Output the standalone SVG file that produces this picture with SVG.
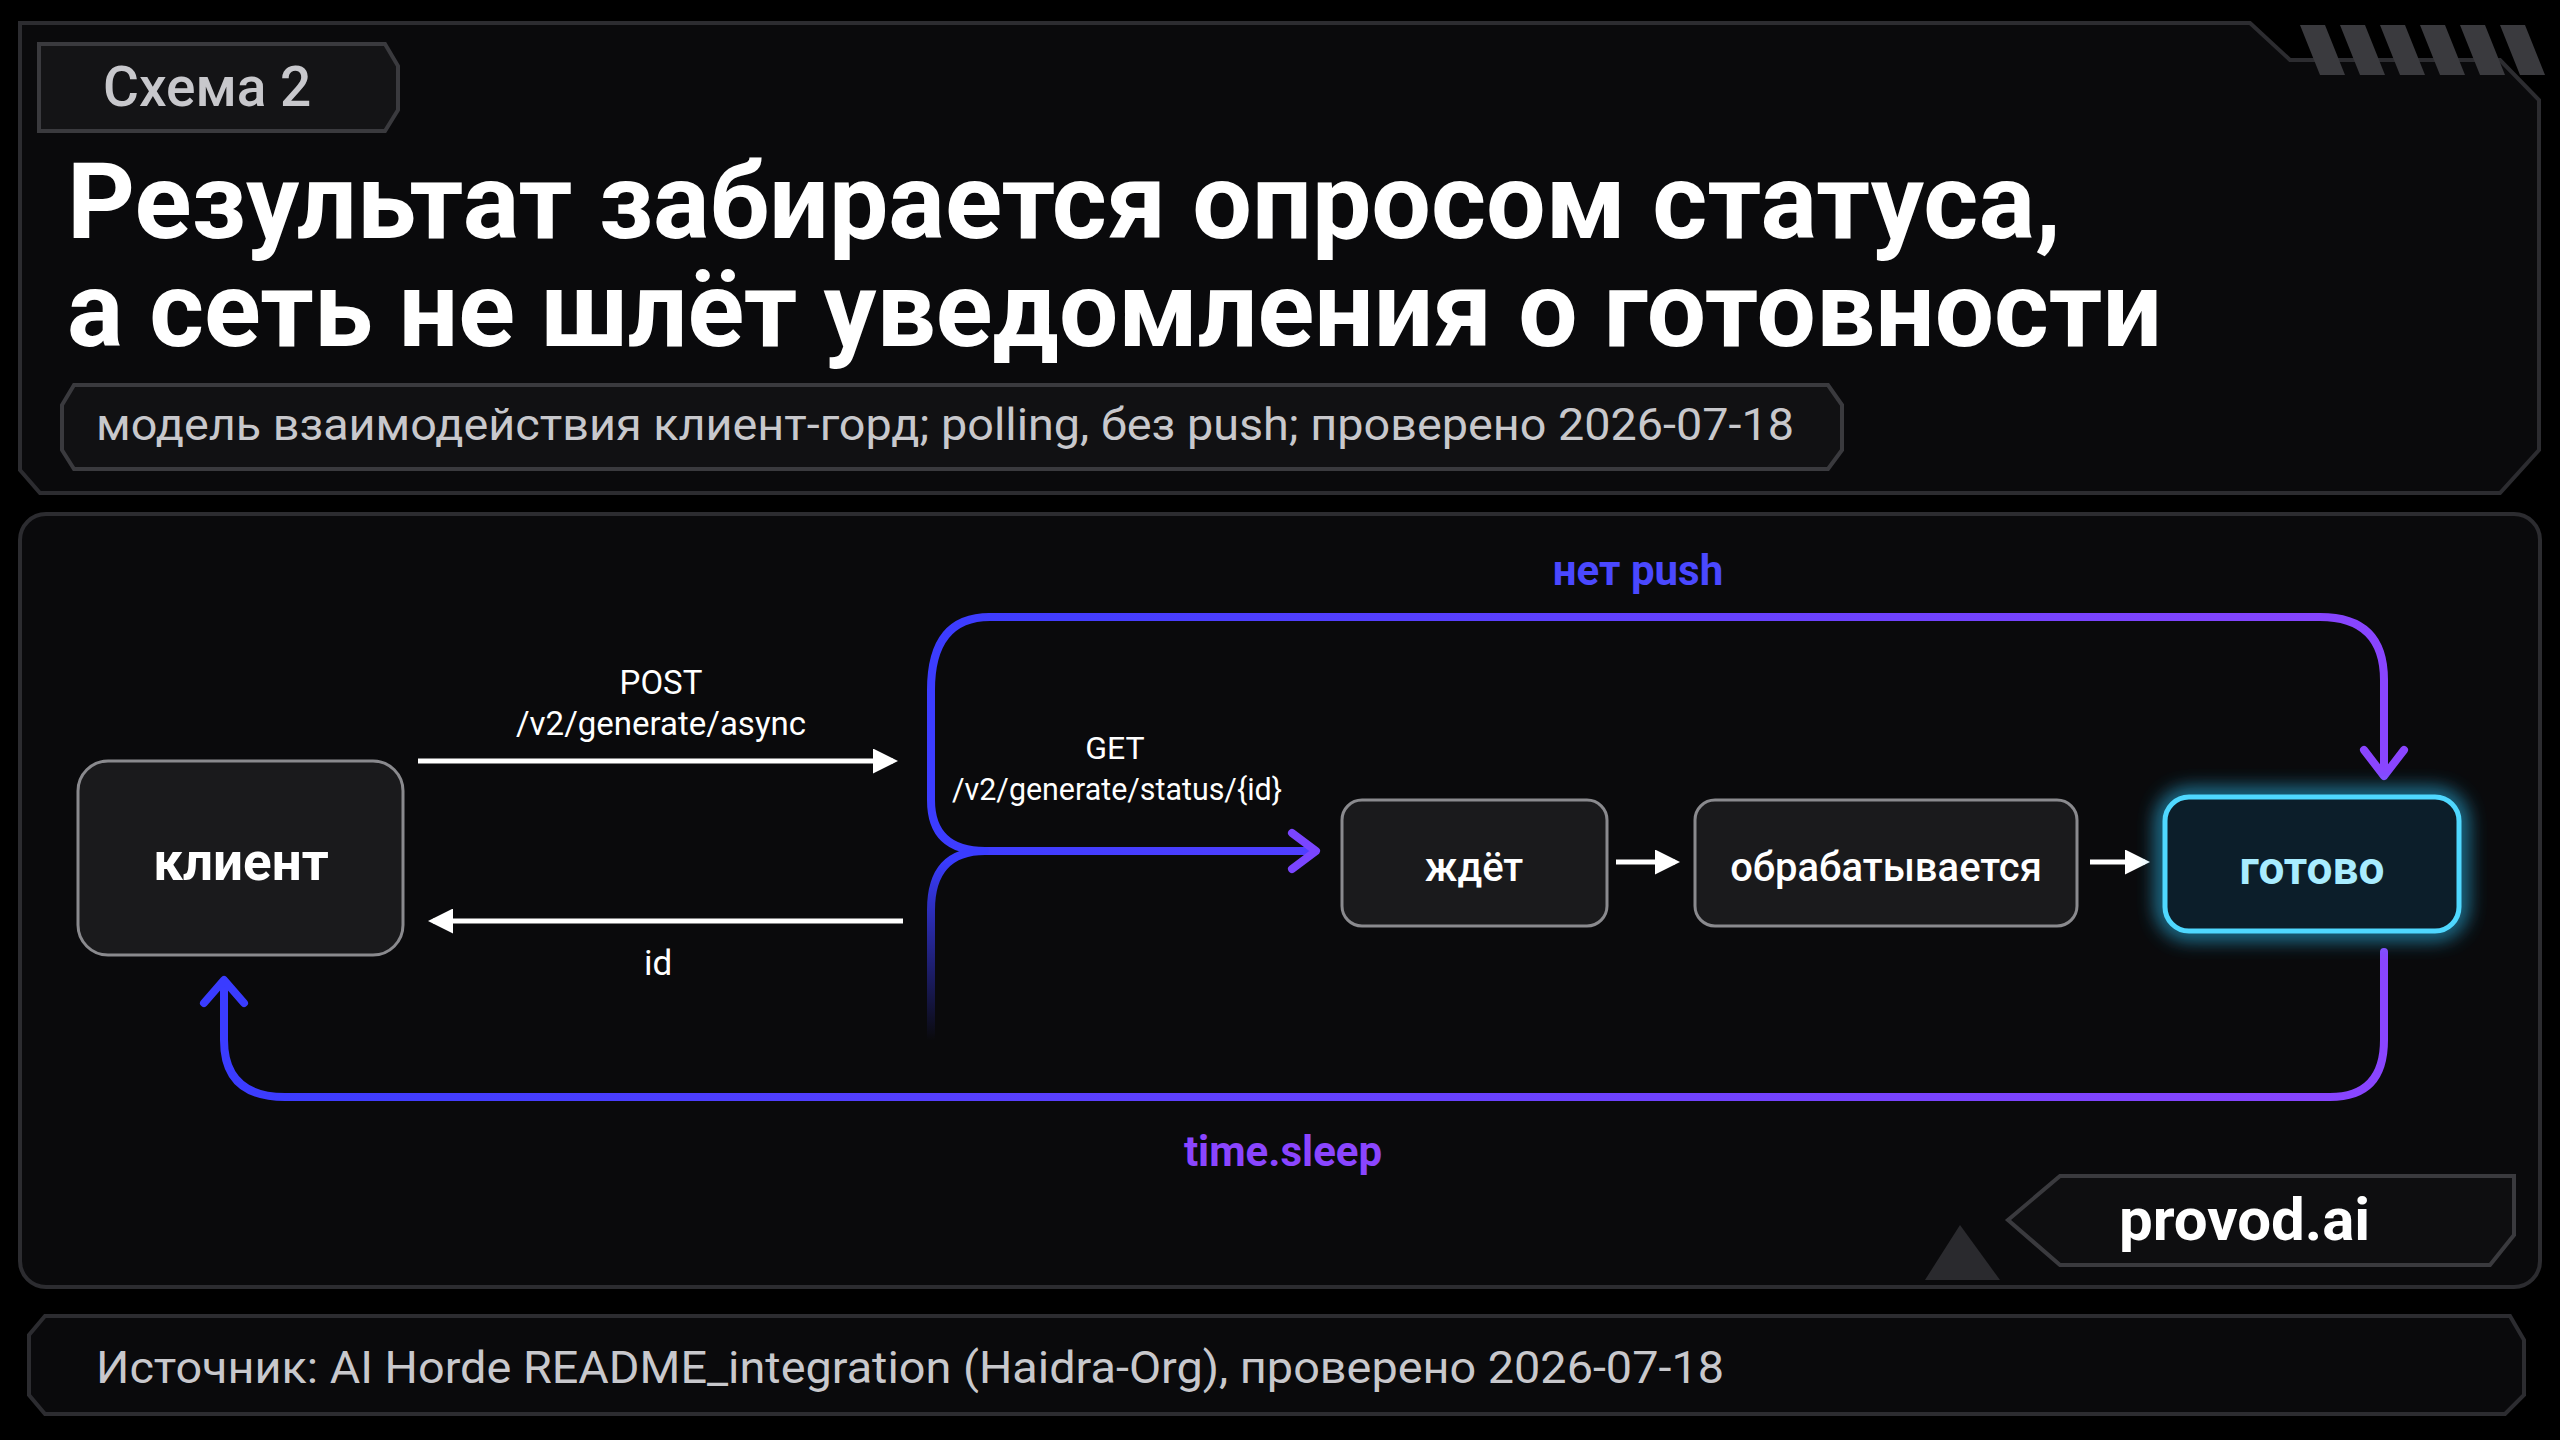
<svg xmlns="http://www.w3.org/2000/svg" width="2560" height="1440" viewBox="0 0 2560 1440">
<defs>
<style>
.frame{fill:#0a0a0c;stroke:#2c2c30;stroke-width:4}
.node{fill:#1a1a1c;stroke:#8a8a8e;stroke-width:3}
.t{font-family:Roboto,"Liberation Sans",sans-serif}
.w{fill:#fff}
.g{fill:#c8c8cc}
.wl{stroke:#fff;stroke-width:5;fill:none}
.bl{fill:none;stroke-width:8;stroke-linecap:round;stroke-linejoin:round}
</style>
<linearGradient id="gr" gradientUnits="userSpaceOnUse" x1="900" y1="0" x2="2400" y2="0"><stop offset="0" stop-color="#3a3cff"/><stop offset="1" stop-color="#8a45ff"/></linearGradient>
<linearGradient id="gr2" gradientUnits="userSpaceOnUse" x1="200" y1="0" x2="2400" y2="0"><stop offset="0" stop-color="#3a3cff"/><stop offset="1" stop-color="#8a45ff"/></linearGradient>
<linearGradient id="gv" gradientUnits="userSpaceOnUse" x1="0" y1="860" x2="0" y2="1040"><stop offset="0" stop-color="#3a3cff"/><stop offset="1" stop-color="#3a3cff" stop-opacity="0"/></linearGradient>
<marker id="wa" viewBox="0 0 10 10" refX="8" refY="5" markerWidth="5" markerHeight="5" orient="auto"><path d="M0,0 L10,5 L0,10 Z" fill="#fff"/></marker>
<filter id="glow" x="-30%" y="-30%" width="160%" height="160%"><feGaussianBlur stdDeviation="10"/></filter>
</defs>
<rect width="2560" height="1440" fill="#000"/>
<g id="header">
<path class="frame" d="M20,23 H2250 L2290,60 H2500 L2539,100 V450 L2500,493 H40 L20,470 Z"/>
<g fill="#3a3a3e"><path d="M2300,25 h25 l20,50 h-25z"/><path d="M2340,25 h25 l20,50 h-25z"/><path d="M2380,25 h25 l20,50 h-25z"/><path d="M2420,25 h25 l20,50 h-25z"/><path d="M2460,25 h25 l20,50 h-25z"/><path d="M2500,25 h25 l20,50 h-25z"/></g>
<path d="M39,44 H385 L398,66 V110 L385,131 H39 L39,131 Z" fill="#141416" stroke="#3a3a3e" stroke-width="4"/>
<text class="t g" x="103" y="106" font-size="55" font-weight="500">Схема 2</text>
<text class="t w" x="67" y="238" font-size="106" font-weight="700" textLength="1994" lengthAdjust="spacingAndGlyphs">Результат забирается опросом статуса,</text>
<text class="t w" x="67" y="346" font-size="106" font-weight="700" textLength="2095" lengthAdjust="spacingAndGlyphs">а сеть не шлёт уведомления о готовности</text>
<path d="M74,385 H1828 L1842,405 V450 L1828,469 H74 L62,450 V405 Z" fill="#111113" stroke="#3a3a3e" stroke-width="4"/>
<text class="t g" x="96" y="440" font-size="45" textLength="1698" lengthAdjust="spacingAndGlyphs">модель взаимодействия клиент-горд; polling, без push; проверено 2026-07-18</text>
</g>
<rect class="frame" x="20" y="514" width="2520" height="773" rx="26"/>
<g id="brand">
<path d="M1925,1280 L1960,1225 L2000,1280 Z" fill="#2a2a2e"/>
<path d="M2060,1176 H2514 V1235 L2490,1265 H2060 L2008,1220 Z" fill="#0e0e10" stroke="#3a3a3e" stroke-width="4"/>
<text class="t w" x="2119" y="1240" font-size="60" font-weight="700">provod.ai</text>
</g>
<g id="footer">
<path d="M45,1316 H2510 L2524,1340 V1395 L2505,1414 H45 L29,1395 V1335 Z" fill="#0a0a0c" stroke="#2c2c30" stroke-width="4"/>
<text class="t g" x="96" y="1383" font-size="45" textLength="1628" lengthAdjust="spacingAndGlyphs">Источник: AI Horde README_integration (Haidra-Org), проверено 2026-07-18</text>
</g>
<g id="connectors">
<line class="wl" x1="418" y1="761" x2="893" y2="761" marker-end="url(#wa)"/>
<line class="wl" x1="903" y1="921" x2="433" y2="921" marker-end="url(#wa)"/>
<line class="wl" x1="1616" y1="862" x2="1675" y2="862" marker-end="url(#wa)"/>
<line class="wl" x1="2090" y1="862" x2="2145" y2="862" marker-end="url(#wa)"/>
<path class="bl" stroke="url(#gr)" d="M990,617 H2320 Q2384,617 2384,680 V772"/>
<path class="bl" stroke="url(#gr)" d="M990,617 Q931,617 931,690 V800 Q931,851 985,851 H1312"/>
<path class="bl" stroke="url(#gr2)" d="M2384,952 V1040 Q2384,1097 2330,1097 H285 Q224,1097 224,1040 V985"/>
<path class="bl" stroke="url(#gv)" d="M985,851 Q931,851 931,910 V1037"/>
<path class="bl" stroke="#8a45ff" d="M2364,750 L2384,776 L2404,750"/>
<path class="bl" stroke="#7a45ff" d="M1292,833 L1316,851 L1292,869"/>
<path class="bl" stroke="#3a3cff" d="M204,1003 L224,980 L244,1003"/>
<text class="t w" x="661" y="694" font-size="33" text-anchor="middle">POST</text>
<text class="t w" x="661" y="735" font-size="33" text-anchor="middle">/v2/generate/async</text>
<text class="t w" x="658" y="975" font-size="35" text-anchor="middle">id</text>
<text class="t w" x="1115" y="759" font-size="32" text-anchor="middle">GET</text>
<text class="t w" x="1117" y="800" font-size="32" text-anchor="middle" textLength="330" lengthAdjust="spacingAndGlyphs">/v2/generate/status/{id}</text>
<text class="t" x="1638" y="585" font-size="42" font-weight="700" fill="#4a48ff" text-anchor="middle">нет push</text>
<text class="t" x="1283" y="1166" font-size="42" font-weight="700" fill="#8a45ff" text-anchor="middle">time.sleep</text>
</g>
<g id="client"><rect class="node" x="78" y="761" width="325" height="194" rx="30"/><text class="t w" x="241" y="880" font-size="53" font-weight="700" text-anchor="middle">клиент</text></g>
<g id="wait"><rect class="node" x="1342" y="800" width="265" height="126" rx="20"/><text class="t w" x="1474" y="881" font-size="40" font-weight="500" text-anchor="middle">ждёт</text></g>
<g id="processing"><rect class="node" x="1695" y="800" width="382" height="126" rx="20"/><text class="t w" x="1886" y="881" font-size="40" font-weight="500" text-anchor="middle">обрабатывается</text></g>
<g id="ready">
<rect x="2165" y="797" width="294" height="134" rx="24" fill="none" stroke="#2fc8ff" stroke-width="14" filter="url(#glow)" opacity="0.8"/>
<rect x="2165" y="797" width="294" height="134" rx="24" fill="#0c1e2a" stroke="#4fd8ff" stroke-width="5"/>
<text class="t" x="2312" y="884" font-size="46" font-weight="700" fill="#a8ecff" text-anchor="middle">готово</text>
</g>
</svg>
